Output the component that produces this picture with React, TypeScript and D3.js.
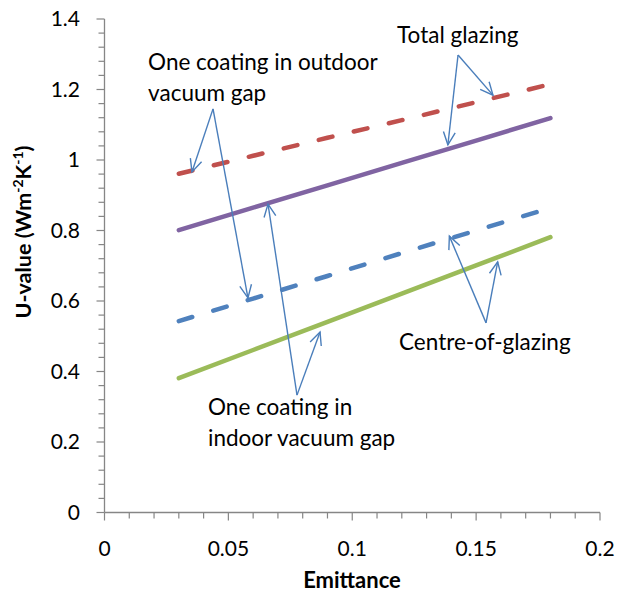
import React from "react";
import * as d3 from "d3";

const emittance = [0.03, 0.06, 0.09, 0.12, 0.15, 0.18];
const totalOutdoor = [0.961, 1.012, 1.063, 1.113, 1.164, 1.215];
const totalIndoor = [0.801, 0.865, 0.928, 0.992, 1.055, 1.119];
const centreOutdoor = [0.543, 0.607, 0.671, 0.736, 0.8, 0.864];
const centreIndoor = [0.381, 0.461, 0.541, 0.621, 0.701, 0.781];

const xTickLabels = ["0", "0.05", "0.1", "0.15", "0.2"];
const yTickLabels = ["0", "0.2", "0.4", "0.6", "0.8", "1", "1.2", "1.4"];

type Series = { values: number[]; color: string; dashed: boolean };
const seriesList: Series[] = [
  { values: totalOutdoor, color: "#C0504D", dashed: true },
  { values: totalIndoor, color: "#8064A2", dashed: false },
  { values: centreOutdoor, color: "#4F81BD", dashed: true },
  { values: centreIndoor, color: "#9BBB59", dashed: false },
];

// annotation: label lines, label anchor (data coords), arrows origin -> tips (data coords)
const annotations = [
  {
    lines: ["Total glazing"],
    at: [0.1181, 1.332],
    origin: [0.1427, 1.298],
    tips: [
      [0.1386, 1.043],
      [0.1568, 1.184],
    ],
  },
  {
    lines: ["One coating in outdoor", "vacuum gap"],
    at: [0.0176, 1.255],
    origin: [0.0438, 1.145],
    tips: [
      [0.0353, 0.966],
      [0.0579, 0.609],
    ],
  },
  {
    lines: ["One coating in", "indoor vacuum gap"],
    at: [0.0418, 0.277],
    origin: [0.0777, 0.333],
    tips: [
      [0.066, 0.875],
      [0.087, 0.512],
    ],
  },
  {
    lines: ["Centre-of-glazing"],
    at: [0.1189, 0.461],
    origin: [0.154, 0.538],
    tips: [
      [0.1587, 0.711],
      [0.1392, 0.784],
    ],
  },
];

const W = 617;
const H = 597;
const FONT = "Lato, 'Open Sans', sans-serif";
const AXIS = "#868686";
const ARROW = "#4A7EBB";

export default function App() {
  const x = d3.scaleLinear().domain([0, 0.2]).range([104.5, 600]);
  const y = d3.scaleLinear().domain([0, 1.4]).range([512.5, 19]);

  const line = d3
    .line<number>()
    .x((_, i) => x(emittance[i]))
    .y((v) => y(v));

  const xMinor = d3.range(0, 21).map((i) => i * 0.01);
  const yMinor = d3.range(0, 36).map((i) => i * 0.04);

  const arrowHead = (ox: number, oy: number, tx: number, ty: number) => {
    const ang = Math.atan2(oy - ty, ox - tx);
    const len = 14;
    const spread = (25 * Math.PI) / 180;
    const a1 = ang + spread;
    const a2 = ang - spread;
    return `M${tx + len * Math.cos(a1)},${ty + len * Math.sin(a1)}L${tx},${ty}L${
      tx + len * Math.cos(a2)
    },${ty + len * Math.sin(a2)}`;
  };

  return (
    <svg
      width={W}
      height={H}
      style={{ position: "absolute", left: 0, top: 0, background: "#fff" }}
      fontFamily={FONT}
    >
      <rect width={W} height={H} fill="#fff" />
      {/* y axis */}
      <line x1={x(0)} x2={x(0)} y1={y(0)} y2={y(1.4)} stroke={AXIS} strokeWidth={1.3} />
      {yMinor.map((v, i) => (
        <line
          key={"ym" + i}
          x1={x(0)}
          x2={x(0) - (i % 5 === 0 ? 8 : 6)}
          y1={y(v)}
          y2={y(v)}
          stroke={AXIS}
          strokeWidth={1.2}
        />
      ))}
      {yTickLabels.map((t) => (
        <text
          key={"yl" + t}
          x={80}
          y={y(+t)}
          dy="0.35em"
          textAnchor="end"
          fontSize={21}
          fill="#000"
        >
          {t}
        </text>
      ))}
      {/* x axis */}
      <line x1={x(0)} x2={x(0.2)} y1={y(0)} y2={y(0)} stroke={AXIS} strokeWidth={1.3} />
      {xMinor.map((v, i) => (
        <line
          key={"xm" + i}
          x1={x(v)}
          x2={x(v)}
          y1={y(0)}
          y2={y(0) + (i % 5 === 0 ? 8 : 6)}
          stroke={AXIS}
          strokeWidth={1.2}
        />
      ))}
      {xTickLabels.map((t) => (
        <text
          key={"xl" + t}
          x={x(+t)}
          y={556}
          textAnchor="middle"
          fontSize={21}
          fill="#000"
        >
          {t}
        </text>
      ))}
      <text x={352} y={588} textAnchor="middle" fontSize={22} fontWeight="bold">
        Emittance
      </text>
      <text
        transform={`translate(31,${232}) rotate(-90)`}
        textAnchor="middle"
        fontSize={21.5}
        fontWeight="bold"
      >
        U-value (Wm
        <tspan fontSize={14} dy={-8}>
          -2
        </tspan>
        <tspan dy={8}>K</tspan>
        <tspan fontSize={14} dy={-8}>
          -1
        </tspan>
        <tspan dy={8}>)</tspan>
      </text>

      {/* series */}
      {seriesList.map((s, i) => (
        <path
          key={"s" + i}
          d={line(s.values) || ""}
          fill="none"
          stroke={s.color}
          strokeWidth={4.5}
          strokeLinecap="round"
          strokeDasharray={s.dashed ? "14 22" : undefined}
        />
      ))}

      {/* annotations */}
      {annotations.map((a, i) => {
        const ox = x(a.origin[0]);
        const oy = y(a.origin[1]);
        return (
          <g key={"a" + i}>
            {a.tips.map((tp, j) => {
              const tx = x(tp[0]);
              const ty = y(tp[1]);
              return (
                <g key={j}>
                  <line x1={ox} y1={oy} x2={tx} y2={ty} stroke={ARROW} strokeWidth={1.4} />
                  <path d={arrowHead(ox, oy, tx, ty)} fill="none" stroke={ARROW} strokeWidth={1.4} />
                </g>
              );
            })}
            {a.lines.map((ln, j) => (
              <text key={j} x={x(a.at[0])} y={y(a.at[1]) + j * 31} fontSize={22.5} fill="#000">
                {ln}
              </text>
            ))}
          </g>
        );
      })}
    </svg>
  );
}
